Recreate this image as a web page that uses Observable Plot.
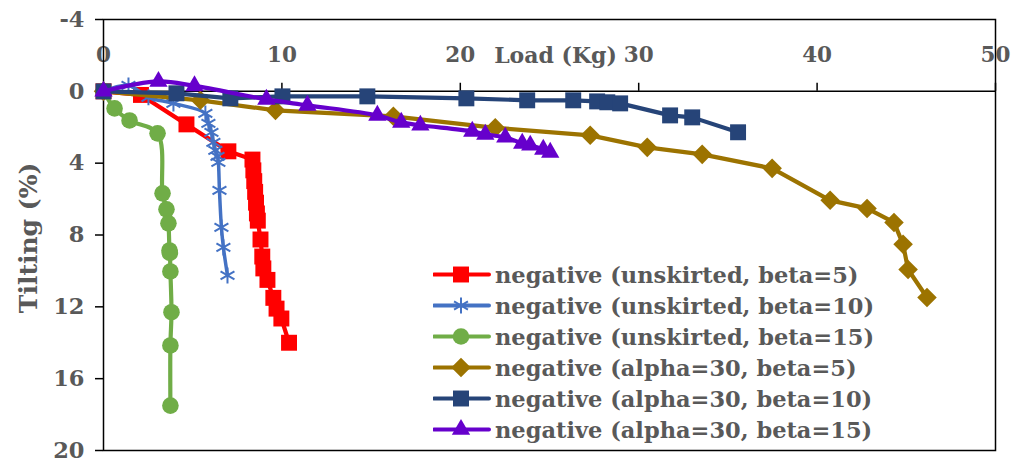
<!DOCTYPE html>
<html><head><meta charset="utf-8">
<script src="https://cdn.jsdelivr.net/npm/d3@7"></script>
<script src="https://cdn.jsdelivr.net/npm/@observablehq/plot@0.6"></script>
<style>
body{margin:0;background:#fff;}
#wrap{position:relative;width:1013px;height:462px;overflow:hidden;background:#fff;}
#legend{position:absolute;left:433px;top:259px;font-family:"DejaVu Serif",serif;font-weight:bold;font-size:22.5px;color:#595959;}
.row{display:flex;align-items:center;height:31px;white-space:nowrap;}
.row svg{flex:none;margin-right:4px;}
</style></head><body><div id="wrap"><div id="chart"></div><div id="legend"></div></div>
<script>
const seriesNames = ["negative (unskirted, beta=5)", "negative (unskirted, beta=10)", "negative (unskirted, beta=15)", "negative (alpha=30, beta=5)", "negative (alpha=30, beta=10)", "negative (alpha=30, beta=15)"];
const seriesColors = ["#FF0000", "#4472C4", "#70AD47", "#9C7300", "#264478", "#6600CC"];
const seriesSymbols = ["square", "asterisk", "circle", "diamond2", "square", "triangle"];
const seriesCurves = ["linear", "catmull-rom", "catmull-rom", "linear", "linear", "catmull-rom"];

const loadU5 = [0, 2.1, 4.65, 7.0, 8.35, 8.4, 8.45, 8.5, 8.55, 8.6, 8.65, 8.8, 8.9, 8.96, 9.19, 9.52, 9.7, 9.97, 10.4];
const tiltU5 = [0, 0.2, 1.84, 3.34, 3.8, 4.4, 5.0, 5.6, 6.2, 6.8, 7.2, 8.25, 9.2, 9.86, 10.5, 11.5, 12.1, 12.65, 14.0];
const loadU10 = [0, 1.4, 2.52, 3.92, 5.71, 5.88, 6.05, 6.16, 6.27, 6.39, 6.44, 6.5, 6.61, 6.72, 6.95];
const tiltU10 = [0, -0.33, 0.33, 0.67, 1.23, 1.78, 2.28, 2.84, 3.29, 3.62, 3.96, 5.52, 7.58, 8.69, 10.25];
const loadU15 = [0, 0.62, 1.46, 3.03, 3.31, 3.53, 3.64, 3.7, 3.72, 3.75, 3.81, 3.75, 3.75];
const tiltU15 = [0, 0.95, 1.62, 2.34, 5.68, 6.57, 7.35, 8.86, 9.0, 10.03, 12.3, 14.15, 17.5];
const loadA5 = [0, 5.43, 9.64, 16.25, 21.96, 27.28, 30.48, 33.56, 37.48, 40.73, 42.8, 44.31, 44.82, 45.1, 46.16];
const tiltA5 = [0, 0.5, 1.06, 1.39, 2.03, 2.45, 3.12, 3.51, 4.29, 6.07, 6.52, 7.3, 8.52, 9.92, 11.48];
const loadA10 = [0, 4.09, 7.11, 10.03, 14.79, 20.34, 23.75, 26.33, 27.67, 28.24, 28.96, 31.76, 33.0, 35.57];
const tiltA10 = [0, 0.11, 0.39, 0.28, 0.28, 0.39, 0.5, 0.5, 0.56, 0.61, 0.67, 1.34, 1.45, 2.28];
const loadA15 = [0, 3.08, 5.1, 9.13, 11.43, 15.35, 16.69, 17.76, 20.67, 21.4, 22.52, 23.47, 23.92, 24.65, 25.04];
const tiltA15 = [0, -0.55, -0.3, 0.45, 0.78, 1.34, 1.73, 1.89, 2.23, 2.4, 2.56, 2.9, 3.0, 3.23, 3.4];

const xTicks = [0, 10, 20, 30, 40, 50];
const yTicks = [-4, 0, 4, 8, 12, 16, 20];
const xTitle = "Load (Kg)";
const yTitle = "Tilting (%)";

const loads = [loadU5, loadU10, loadU15, loadA5, loadA10, loadA15];
const tilts = [tiltU5, tiltU10, tiltU15, tiltA5, tiltA10, tiltA15];
const symbolR = {square: 9, asterisk: 7.6, circle: 8.3, diamond2: 8.8, triangle: 6.8};

const FONT = '"DejaVu Serif", serif';
const GRAY = "#595959";

const seriesMarks = seriesNames.flatMap((name, k) => {
  const rows = loads[k].map((x, i) => ({x, y: tilts[k][i]}));
  const sym = seriesSymbols[k];
  const stroked = sym === "asterisk";
  return [
    Plot.line(rows, {x: "x", y: "y", stroke: seriesColors[k], strokeWidth: stroked ? 3.5 : 4.2, curve: seriesCurves[k]}),
    Plot.dot(rows, {x: "x", y: "y", symbol: () => sym, r: symbolR[sym],
      fill: stroked ? "none" : seriesColors[k], stroke: seriesColors[k], strokeWidth: stroked ? 2 : 0})
  ];
});

const chart = Plot.plot({
  width: 1013, height: 462,
  marginLeft: 103, marginRight: 18, marginTop: 19, marginBottom: 12,
  x: {domain: [0, 50], axis: null},
  y: {domain: [-4, 20], reverse: true},
  symbol: {type: "identity"},
  style: {fontFamily: FONT, fontWeight: "bold", fontSize: "22px", background: "white", overflow: "visible"},
  marks: [
    Plot.ruleY([0], {stroke: "#000", strokeWidth: 1.5}),
    Plot.ruleX(xTicks, {x: d => d, y1: 0, y2: -0.45, stroke: "#000", strokeWidth: 1.5}),
    Plot.text(xTicks, {x: d => d, y: -2, text: d => String(d), fontSize: 21.5, fill: GRAY, fontWeight: "bold"}),
    Plot.text([xTitle], {frameAnchor: "top", dx: 6, dy: 36, lineAnchor: "middle", text: d => d, fontSize: 22, fill: GRAY, fontWeight: "bold"}),
    Plot.axisY(yTicks, {tickSize: 8, tickPadding: 11, tickFormat: d => String(d), fontSize: 22.5, fill: GRAY, stroke: "#000", strokeWidth: 1.5, label: null}),
    Plot.text([yTitle], {frameAnchor: "left", textAnchor: "middle", rotate: -90, dx: -75, dy: 3, text: d => d, fontSize: 25, fill: GRAY, fontWeight: "bold"}),
    Plot.frame({stroke: "#000", strokeWidth: 1.5}),
    ...seriesMarks
  ]
});
document.getElementById("chart").appendChild(chart);

// legend
const legend = d3.select("#legend");
seriesNames.forEach((name, k) => {
  const row = legend.append("div").attr("class", "row");
  const svg = row.append("svg").attr("width", 58).attr("height", 31);
  svg.append("line").attr("x1", 1).attr("x2", 56).attr("y1", 15.5).attr("y2", 15.5)
    .attr("stroke", seriesColors[k]).attr("stroke-width", 4).attr("stroke-linecap", "round");
  const sym = seriesSymbols[k];
  const typeMap = {square: d3.symbolSquare, asterisk: d3.symbolAsterisk, circle: d3.symbolCircle, diamond2: d3.symbolDiamond2, triangle: d3.symbolTriangle};
  const r = symbolR[sym];
  const path = d3.symbol(typeMap[sym], Math.PI * r * r)();
  const stroked = sym === "asterisk";
  svg.append("path").attr("d", path).attr("transform", "translate(28,15.5)")
    .attr("fill", stroked ? "none" : seriesColors[k]).attr("stroke", seriesColors[k]).attr("stroke-width", stroked ? 2 : 0);
  row.append("span").text(name);
});
</script></body></html>
